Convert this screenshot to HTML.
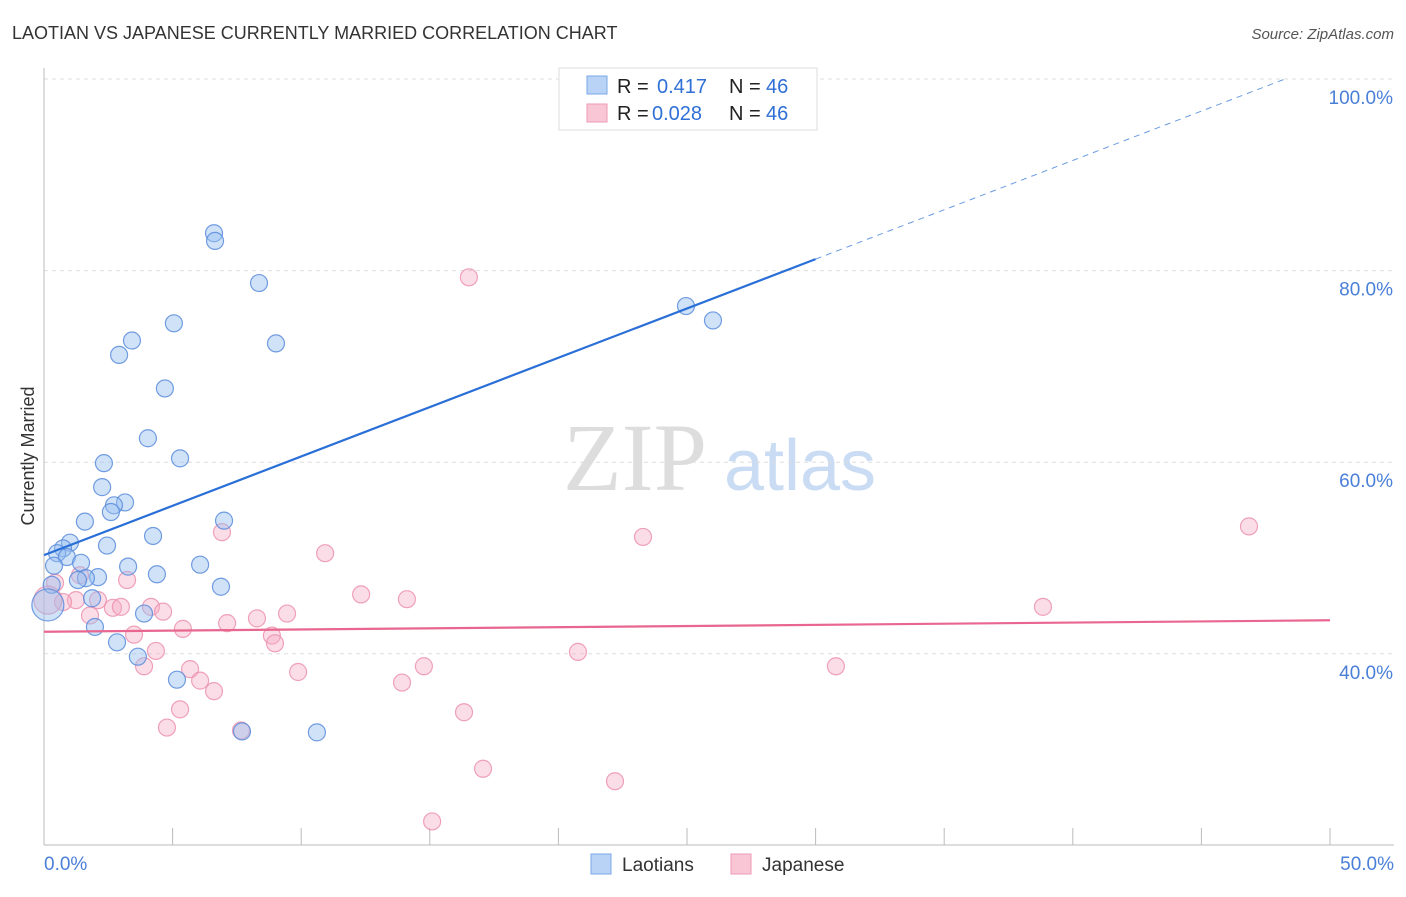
<!DOCTYPE html>
<html><head><meta charset="utf-8"><style>
body{margin:0;background:#fff;font-family:"Liberation Sans",sans-serif;}
svg text{font-family:"Liberation Sans",sans-serif;}
</style></head><body>
<svg id="chart" width="1406" height="892">
<text x="12" y="39" font-size="18" fill="#333">LAOTIAN VS JAPANESE CURRENTLY MARRIED CORRELATION CHART</text>
<text x="1394" y="39" font-size="15" fill="#555" text-anchor="end" font-style="italic">Source: ZipAtlas.com</text>
<text x="34" y="456" font-size="18" fill="#333" text-anchor="middle" transform="rotate(-90 34 456)">Currently Married</text>
<g>
<text x="635" y="490" font-size="96" fill="#ddd" text-anchor="middle" font-family="Liberation Serif" style="font-family:'Liberation Serif',serif">ZIP</text>
<text x="800" y="490" font-size="72" fill="#c9dcf3" text-anchor="middle">atlas</text>
</g>
<g id="grid"></g><g id="axes"></g><g id="pink"></g><g id="blue"></g><g id="trends"></g>
<g>
<rect x="559" y="68" width="258" height="62" fill="#fff" stroke="#ddd"/>
<rect x="587" y="76" width="20" height="18" fill="#b8d3f5" stroke="#7aa7e6"/>
<rect x="587" y="104" width="20" height="18" fill="#f8c6d5" stroke="#ef9ab4"/>
<text x="617" y="93" font-size="20" fill="#222">R = </text><text x="657" y="93" font-size="20" fill="#2f6fd6">0.417</text>
<text x="729" y="93" font-size="20" fill="#222">N = </text><text x="766" y="93" font-size="20" fill="#2f6fd6">46</text>
<text x="617" y="120" font-size="20" fill="#222">R = </text><text x="652" y="120" font-size="20" fill="#2f6fd6">0.028</text>
<text x="729" y="120" font-size="20" fill="#222">N = </text><text x="766" y="120" font-size="20" fill="#2f6fd6">46</text>
</g>
<g>
<rect x="591" y="854" width="20" height="20" fill="#b8d3f5" stroke="#7aa7e6"/>
<text x="622" y="871" font-size="19" fill="#333">Laotians</text>
<rect x="731" y="854" width="20" height="20" fill="#f8c6d5" stroke="#ef9ab4"/>
<text x="762" y="871" font-size="19" fill="#333">Japanese</text>
</g>
</svg>
<script>
const blueX=[6.61,6.65,8.36,5.05,3.42,2.92,9.02,4.70,4.04,5.29,2.33,2.26,3.15,2.72,2.60,1.59,4.24,1.01,0.74,0.51,0.89,2.45,1.44,0.39,3.27,4.39,6.07,2.10,1.63,1.32,6.88,1.87,1.98,2.84,3.65,3.89,5.17,7.70,10.61,24.96,26.01,7.0,0.3,0.15];
const blueY=[83.9,83.1,78.7,74.5,72.7,71.2,72.4,67.7,62.5,60.4,59.9,57.4,55.8,55.5,54.8,53.8,52.3,51.6,51.0,50.5,50.1,51.3,49.5,49.2,49.1,48.3,49.3,48.0,47.9,47.7,47.0,45.8,42.8,41.2,39.7,44.2,37.3,31.9,31.8,76.3,74.8,53.9,47.2,45.1];
const pinkX=[16.52,46.85,23.29,10.93,6.92,12.33,14.11,38.84,3.23,2.10,1.24,0.74,2.68,2.99,1.79,4.16,4.63,8.28,9.45,7.12,5.40,3.50,8.86,8.98,4.35,3.89,20.76,30.79,14.77,9.88,5.68,6.07,13.92,6.61,5.29,16.33,4.78,7.66,17.07,22.20,15.09,0.43,1.4,0.15];
const pinkY=[79.3,53.3,52.2,50.5,52.7,46.2,45.7,44.9,47.7,45.6,45.6,45.4,44.8,44.9,44.0,44.9,44.4,43.7,44.2,43.2,42.6,42.0,41.9,41.1,40.3,38.7,40.2,38.7,38.7,38.1,38.4,37.2,37.0,36.1,34.2,33.9,32.3,32.0,28.0,26.7,22.5,47.4,48.2,45.6];
const yTicks=[100,80,60,40];
const yTickLabels=["100.0%","80.0%","60.0%","40.0%"];
const blueTrend=[50.3,1.03];
const pinkTrend=[42.3,0.024];
const NS="http://www.w3.org/2000/svg";
function sx(v){return 44+v*25.72;}
function sy(v){return 79+(100-v)*9.58;}
function mk(tag,attrs,parent){const e=document.createElementNS(NS,tag);for(const k in attrs)e.setAttribute(k,attrs[k]);document.getElementById(parent).appendChild(e);return e;}
yTicks.forEach((t,i)=>{
 const l=mk('line',{x1:44,x2:1394,y1:sy(t),y2:sy(t),stroke:'#ddd','stroke-dasharray':'4,4'},'grid');
 
 
 const tx=mk('text',{x:1393,y:sy(t)+25,'font-size':19,fill:'#4a7fd8','text-anchor':'end'},'grid');
 tx.textContent=yTickLabels[i];
 
 
});
mk('line',{x1:44,x2:44,y1:68,y2:845,stroke:'#bbb'},'axes');
mk('line',{x1:44,x2:1394,y1:845,y2:845,stroke:'#bbb'},'axes');
for(let i=0;i<=10;i++){mk('line',{x1:sx(i*5),x2:sx(i*5),y1:828,y2:845,stroke:'#bbb'},'axes');}
let t0=mk('text',{x:44,y:870,'font-size':19,fill:'#4a7fd8'},'axes');t0.textContent='0.0%';


let t1=mk('text',{x:1394,y:870,'font-size':19,fill:'#4a7fd8','text-anchor':'end'},'axes');t1.textContent='50.0%';


pinkX.forEach((x,i)=>{
 const c=mk('circle',{cx:sx(x),cy:sy(pinkY[i]),r:i===pinkX.length-1?14:8.5,fill:'rgba(245,170,195,0.4)',stroke:'rgba(235,140,170,0.8)','stroke-width':1.2},'pink');
 
 
});
blueX.forEach((x,i)=>{
 const c=mk('circle',{cx:sx(x),cy:sy(blueY[i]),r:i===blueX.length-1?16:8.5,fill:'rgba(150,190,240,0.45)',stroke:'rgba(90,140,220,0.85)','stroke-width':1.2},'blue');
 
 
});
const bEnd=30, bDash=(100-blueTrend[0])/blueTrend[1];
const bl=mk('line',{x1:sx(0),y1:sy(blueTrend[0]),x2:sx(bEnd),y2:sy(blueTrend[0]+blueTrend[1]*bEnd),stroke:'#2a6fd8','stroke-width':2.2},'trends');


const bd=mk('line',{x1:sx(bEnd),y1:sy(blueTrend[0]+blueTrend[1]*bEnd),x2:sx(bDash),y2:sy(100),stroke:'#6a9be0','stroke-width':1,'stroke-dasharray':'6,5'},'trends');


const pl=mk('line',{x1:sx(0),y1:sy(pinkTrend[0]),x2:sx(50),y2:sy(pinkTrend[0]+pinkTrend[1]*50),stroke:'#e8668f','stroke-width':2.2},'trends');


</script>
</body></html>
